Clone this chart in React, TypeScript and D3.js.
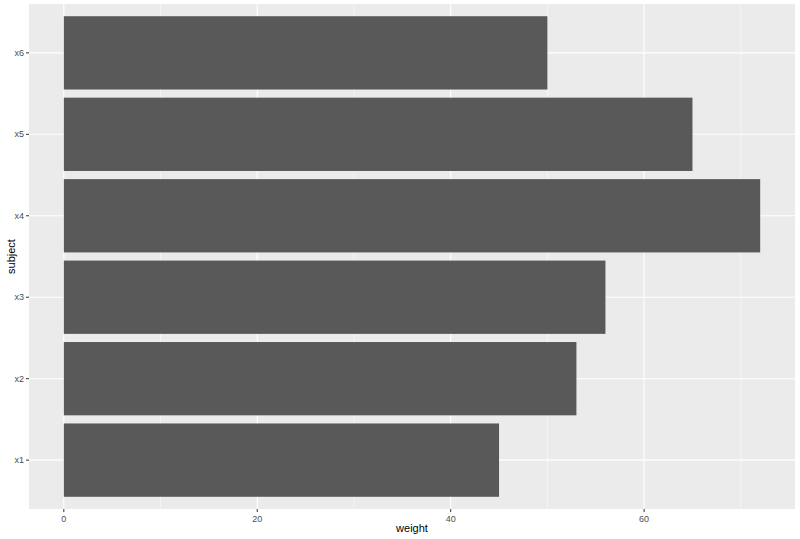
import React, { useRef, useEffect } from 'react';
import * as d3 from 'd3';

const subjects = ['x1', 'x2', 'x3', 'x4', 'x5', 'x6'];
const weights = [45, 53, 56, 72, 65, 50];
const majorTicks = [0, 20, 40, 60];
const minorTicks = [10, 30, 50, 70];

const width = 800;
const height = 539;
const margin = { top: 4, right: 5, bottom: 30, left: 29 };

const App: React.FC = () => {
  const svgRef = useRef<SVGSVGElement>(null);

  useEffect(() => {
    if (!svgRef.current) return;
    const svg = d3.select(svgRef.current);
    svg.selectAll('*').remove();

    const x0 = margin.left;
    const x1 = width - margin.right;
    const y0 = margin.top;
    const y1 = height - margin.bottom;

    // ggplot-like 5% expansion
    const maxW = d3.max(weights) || 0;
    const pad = maxW * 0.05;
    const x = d3.scaleLinear().domain([-pad, maxW + pad]).range([x0, x1]);

    // discrete axis: 0.6 unit expansion, bar width 0.9
    const n = subjects.length;
    const yPos = d3.scaleLinear().domain([0.4, n + 0.6]).range([y1, y0]);
    const unit = yPos(1) - yPos(2);

    // panel
    svg.append('rect')
      .attr('x', x0).attr('y', y0)
      .attr('width', x1 - x0).attr('height', y1 - y0)
      .attr('fill', '#EBEBEB');

    // minor gridlines
    minorTicks.forEach(t => {
      svg.append('line')
        .attr('x1', x(t)).attr('x2', x(t))
        .attr('y1', y0).attr('y2', y1)
        .attr('stroke', '#fff').attr('stroke-width', 0.5);
    });

    // major gridlines
    majorTicks.forEach(t => {
      svg.append('line')
        .attr('x1', x(t)).attr('x2', x(t))
        .attr('y1', y0).attr('y2', y1)
        .attr('stroke', '#fff').attr('stroke-width', 1.1);
    });
    subjects.forEach((_, i) => {
      svg.append('line')
        .attr('x1', x0).attr('x2', x1)
        .attr('y1', yPos(i + 1)).attr('y2', yPos(i + 1))
        .attr('stroke', '#fff').attr('stroke-width', 1.1);
    });

    // bars
    subjects.forEach((s, i) => {
      const cy = yPos(i + 1);
      svg.append('rect')
        .attr('x', x(0))
        .attr('y', cy - unit * 0.45)
        .attr('width', x(weights[i]) - x(0))
        .attr('height', unit * 0.9)
        .attr('fill', '#595959');
    });

    // x axis ticks & labels
    majorTicks.forEach(t => {
      svg.append('line')
        .attr('x1', x(t)).attr('x2', x(t))
        .attr('y1', y1).attr('y2', y1 + 3)
        .attr('stroke', '#333').attr('stroke-width', 1);
      svg.append('text')
        .attr('x', x(t)).attr('y', y1 + 13)
        .attr('text-anchor', 'middle')
        .attr('fill', '#4D4D4D')
        .attr('font-size', '9px')
        .text(t);
    });

    // y axis ticks & labels
    subjects.forEach((s, i) => {
      const cy = yPos(i + 1);
      svg.append('line')
        .attr('x1', x0 - 3).attr('x2', x0)
        .attr('y1', cy).attr('y2', cy)
        .attr('stroke', '#333').attr('stroke-width', 1);
      svg.append('text')
        .attr('x', x0 - 5).attr('y', cy)
        .attr('text-anchor', 'end')
        .attr('dominant-baseline', 'central')
        .attr('fill', '#4D4D4D')
        .attr('font-size', '9px')
        .text(s);
    });

    // axis titles
    svg.append('text')
      .attr('x', (x0 + x1) / 2).attr('y', height - 7)
      .attr('text-anchor', 'middle')
      .attr('fill', '#000')
      .attr('font-size', '11px')
      .text('weight');

    svg.append('text')
      .attr('transform', `translate(11, ${(y0 + y1) / 2}) rotate(-90)`)
      .attr('text-anchor', 'middle')
      .attr('dominant-baseline', 'central')
      .attr('fill', '#000')
      .attr('font-size', '11px')
      .text('subject');
  }, []);

  return (
    <svg
      ref={svgRef}
      width={width}
      height={height}
      style={{ position: 'absolute', left: 0, top: 0, background: '#fff', fontFamily: '"Liberation Sans", Arial, sans-serif' }}
    />
  );
};

export default App;
